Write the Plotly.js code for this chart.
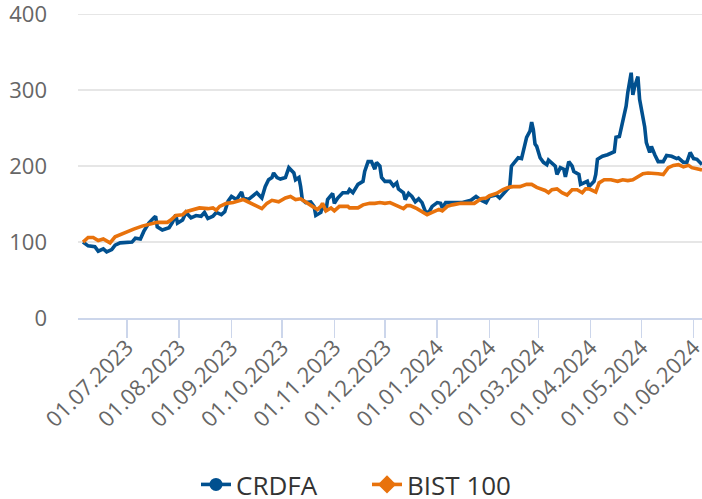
<!DOCTYPE html>
<html>
<head>
<meta charset="utf-8">
<script src="https://cdn.plot.ly/plotly-3.0.1.min.js"></script>
<style>
  html, body { margin: 0; padding: 0; background: #ffffff; }
  #chart { width: 702px; height: 499px; }
</style>
</head>
<body>
<div id="chart"></div>
<script>
// ---- Data (normalised to 100 at start) ----
const crdfaDates = [
  "2023-06-05","2023-06-08","2023-06-12","2023-06-14","2023-06-17","2023-06-19","2023-06-22","2023-06-24","2023-06-27",
  "2023-07-04","2023-07-06","2023-07-09","2023-07-11","2023-07-14","2023-07-17","2023-07-18","2023-07-19","2023-07-22",
  "2023-07-26","2023-07-28","2023-07-30","2023-07-31","2023-08-03","2023-08-05","2023-08-08","2023-08-11","2023-08-14",
  "2023-08-16","2023-08-18","2023-08-21","2023-08-23","2023-08-26","2023-08-28","2023-08-30","2023-09-01","2023-09-03",
  "2023-09-04","2023-09-07","2023-09-08","2023-09-11","2023-09-14","2023-09-16","2023-09-19","2023-09-21","2023-09-23",
  "2023-09-25","2023-09-26","2023-09-28","2023-09-30","2023-10-03","2023-10-05","2023-10-08","2023-10-09","2023-10-11",
  "2023-10-12","2023-10-13","2023-10-15","2023-10-18","2023-10-20","2023-10-21","2023-10-24","2023-10-25","2023-10-27",
  "2023-10-28","2023-10-31","2023-11-01","2023-11-03","2023-11-06","2023-11-09","2023-11-10","2023-11-12","2023-11-15",
  "2023-11-18","2023-11-19","2023-11-21","2023-11-23","2023-11-25","2023-11-26","2023-11-28","2023-11-29","2023-12-01",
  "2023-12-04","2023-12-06","2023-12-08","2023-12-09","2023-12-12","2023-12-13","2023-12-15","2023-12-17","2023-12-19",
  "2023-12-21","2023-12-23","2023-12-25","2023-12-27","2023-12-29","2024-01-01","2024-01-03","2024-01-04","2024-01-06",
  "2024-01-10","2024-01-16","2024-01-21","2024-01-24","2024-01-27","2024-01-30","2024-02-01","2024-02-05","2024-02-07",
  "2024-02-10","2024-02-11","2024-02-13","2024-02-14","2024-02-16","2024-02-18","2024-02-20","2024-02-22","2024-02-23",
  "2024-02-25","2024-02-26","2024-02-27","2024-02-28","2024-02-29","2024-03-02","2024-03-04","2024-03-06","2024-03-07",
  "2024-03-09","2024-03-11","2024-03-12","2024-03-14","2024-03-16","2024-03-17","2024-03-19","2024-03-21","2024-03-22",
  "2024-03-25","2024-03-26","2024-03-28","2024-03-30","2024-03-31","2024-04-03","2024-04-04","2024-04-05","2024-04-08",
  "2024-04-11","2024-04-15","2024-04-16","2024-04-18","2024-04-20","2024-04-22","2024-04-23","2024-04-25","2024-04-26",
  "2024-04-27","2024-04-29","2024-04-30","2024-05-03","2024-05-04","2024-05-06","2024-05-07","2024-05-09","2024-05-11",
  "2024-05-14","2024-05-16","2024-05-19","2024-05-22","2024-05-23","2024-05-26","2024-05-28","2024-05-30","2024-06-01",
  "2024-06-03","2024-06-06"
];
const crdfaValues = [
  100,95,94,88,91,87,90,96,99,
  100,105,104,114,125,132,134,120,116,
  119,126,136,125,129,139,132,135,134,
  139,131,134,139,136,140,154,160,158,
  156,166,158,156,162,165,158,173,182,
  185,191,185,183,185,198,191,182,185,
  173,156,152,153,147,135,139,149,141,
  156,164,151,158,165,165,169,165,176,
  180,193,206,206,196,205,200,185,180,
  180,174,178,170,165,156,164,160,153,
  157,152,140,139,147,152,151,145,152,
  152,152,155,160,155,152,160,162,158,
  165,168,173,200,205,211,210,231,238,
  246,258,248,229,226,211,205,202,208,
  204,200,189,198,196,186,206,200,193,
  189,176,178,180,173,180,189,209,213,
  215,219,238,239,262,279,297,323,294,
  304,318,288,252,231,218,226,215,206,
  206,214,213,210,211,205,205,218,210,
  209,202
];

const bistDates = [
  "2023-06-05","2023-06-08","2023-06-11","2023-06-14","2023-06-17","2023-06-21","2023-06-24","2023-06-29","2023-07-05",
  "2023-07-10","2023-07-16","2023-07-19","2023-07-25","2023-07-27","2023-07-30","2023-08-03","2023-08-05","2023-08-09",
  "2023-08-13","2023-08-18","2023-08-21","2023-08-23","2023-08-25","2023-08-29","2023-09-02","2023-09-08","2023-09-12",
  "2023-09-16","2023-09-19","2023-09-22","2023-09-25","2023-09-29","2023-10-03","2023-10-06","2023-10-09","2023-10-12",
  "2023-10-16","2023-10-19","2023-10-22","2023-10-24","2023-10-25","2023-10-27","2023-10-30","2023-11-01","2023-11-04",
  "2023-11-09","2023-11-10","2023-11-15","2023-11-18","2023-11-22","2023-11-25","2023-11-28","2023-12-01","2023-12-04",
  "2023-12-08","2023-12-12","2023-12-14","2023-12-16","2023-12-20","2023-12-23","2023-12-26","2023-12-29","2024-01-02",
  "2024-01-04","2024-01-07","2024-01-10","2024-01-15","2024-01-21","2024-01-23","2024-01-27","2024-01-30","2024-02-01",
  "2024-02-05","2024-02-09","2024-02-12","2024-02-15","2024-02-19","2024-02-23","2024-02-26","2024-02-29","2024-03-05",
  "2024-03-07","2024-03-09","2024-03-12","2024-03-15","2024-03-18","2024-03-21","2024-03-24","2024-03-27","2024-03-29",
  "2024-03-31","2024-04-04","2024-04-06","2024-04-09","2024-04-13","2024-04-17","2024-04-20","2024-04-23","2024-04-26",
  "2024-04-29","2024-05-02","2024-05-05","2024-05-08","2024-05-11","2024-05-14","2024-05-17","2024-05-20","2024-05-23",
  "2024-05-26","2024-05-29","2024-05-31","2024-06-03","2024-06-06"
];
const bistValues = [
  100,106,106,102,104,99,107,112,117,
  121,124,126,126,129,135,136,140,143,
  145,144,145,142,147,151,152,156,152,
  148,144,151,155,153,158,160,156,157,
  152,147,143,147,151,141,145,141,147,
  147,145,145,149,151,151,152,151,152,
  148,144,148,148,144,140,136,139,143,
  141,147,149,151,151,151,157,158,161,
  164,169,172,173,173,176,176,172,168,
  165,169,170,165,162,169,169,165,170,
  170,166,178,182,182,180,182,181,182,
  186,190,191,191,190,189,198,201,202,
  199,201,198,197,195
];

const seriesNames = ["CRDFA", "BIST 100"];
const seriesColors = ["#01508f", "#e8720c"];

const yTickValues = [0, 100, 200, 300, 400];
const xTickDates = ["2023-07-01","2023-08-01","2023-09-01","2023-10-01","2023-11-01","2023-12-01",
                    "2024-01-01","2024-02-01","2024-03-01","2024-04-01","2024-05-01","2024-06-01"];
const xTickLabels = ["01.07.2023","01.08.2023","01.09.2023","01.10.2023","01.11.2023","01.12.2023",
                     "01.01.2024","01.02.2024","01.03.2024","01.04.2024","01.05.2024","01.06.2024"];

const FONT = "Open Sans, Noto Sans, sans-serif";
const LW = 3.6;

const traces = [
  { x: crdfaDates, y: crdfaValues, type: "scatter", mode: "lines", name: seriesNames[0],
    line: { color: seriesColors[0], width: LW }, showlegend: false, hoverinfo: "x+y" },
  { x: bistDates, y: bistValues, type: "scatter", mode: "lines", name: seriesNames[1],
    line: { color: seriesColors[1], width: LW }, showlegend: false, hoverinfo: "x+y" },
  // legend entries (line with marker symbol, as in the reference)
  { x: [null], y: [null], type: "scatter", mode: "lines+markers", name: seriesNames[0], legend: "legend",
    line: { color: seriesColors[0], width: LW }, marker: { symbol: "circle", size: 13, color: seriesColors[0] } },
  { x: [null], y: [null], type: "scatter", mode: "lines+markers", name: seriesNames[1], legend: "legend2",
    line: { color: seriesColors[1], width: LW }, marker: { symbol: "diamond", size: 14, color: seriesColors[1] } }
];

const legendCommon = {
  orientation: "h",
  xref: "container", yref: "container",
  xanchor: "left",
  y: 0.029, yanchor: "middle",
  font: { family: FONT, size: 26, color: "#333333" },
  itemwidth: 30,
  bgcolor: "rgba(0,0,0,0)"
};

const layout = {
  width: 702, height: 499,
  margin: { l: 78, r: 0, t: 12, b: 181, pad: 0 },
  paper_bgcolor: "#ffffff", plot_bgcolor: "#ffffff",
  font: { family: FONT, color: "#666666" },
  xaxis: {
    type: "date",
    range: ["2023-06-02", "2024-06-06"],
    tickmode: "array", tickvals: xTickDates, ticktext: xTickLabels,
    tickangle: -45,
    ticks: "outside", ticklen: 18, tickwidth: 1.5, tickcolor: "#ccd6eb",
    ticklabeloverflow: "allow",
    ticklabelstandoff: -12,
    showline: true, linecolor: "#ccd6eb", linewidth: 2,
    showgrid: false, zeroline: false,
    tickfont: { family: FONT, size: 22, color: "#666666" }
  },
  yaxis: {
    range: [0, 403],
    tickmode: "array", tickvals: yTickValues,
    showgrid: true, gridcolor: "#e6e6e6", gridwidth: 1.5,
    zeroline: false, showline: false, ticks: "",
    ticklabeloverflow: "allow",
    ticklabelstandoff: 30,
    tickfont: { family: FONT, size: 22, color: "#666666" }
  },
  showlegend: true,
  legend: Object.assign({}, legendCommon, { x: 196 / 702 }),
  legend2: Object.assign({}, legendCommon, { x: 367 / 702 })
};

Plotly.newPlot("chart", traces, layout, { displayModeBar: false, staticPlot: true });
</script>
</body>
</html>
